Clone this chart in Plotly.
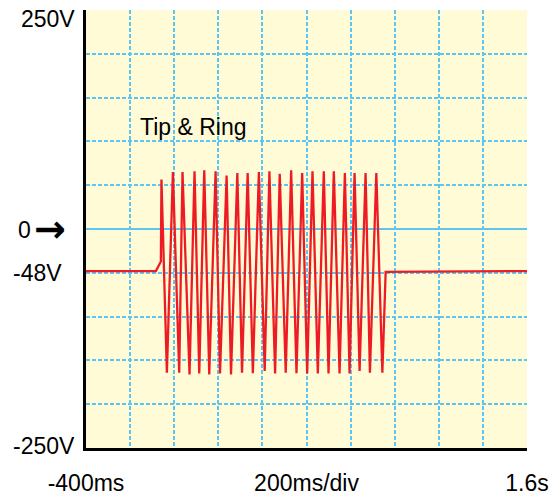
import plotly.graph_objects as go

# Time (ms) and voltage (V) samples
time_ms = [-400, -83, -60.5, -57.8,
           -33.2, -5.9, 22.7, 37.7, 69.5, 92.2, 113.6, 136.3, 159, 187.7,
           207.7, 237.7, 257.7, 286.3, 307.6, 333.1, 356.7, 384, 410.4, 431.8,
           457.6, 478.6, 505.8, 530.4, 554.5, 580.4, 603.1, 627.2, 651.3, 678.5,
           699.9, 724, 749.9, 774, 795.3, 818, 840.8, 868, 887.6, 916.7,
           944, 959, 1600]
volts = [-48, -48, -37, 56.5,
         -164, 65, -164, 65, -166, 66, -165, 67, -166, 66,
         -165, 61, -166, 64, -164, 64, -164.5, 65, -162, 66,
         -165, 63, -164, 67, -164.5, 64, -165, 66, -165, 66,
         -165, 66, -165, 64, -165, 64, -162, 64, -164, 64,
         -164, -49, -48]

x_tick_vals = [-400, 600, 1600]
x_tick_text = ["-400ms", "200ms/div", "1.6s"]
y_labels = ["250V", "0", "-48V", "-250V"]
y_label_pos = [240, -1.5, -50.5, -248]

GRID = "#5cc6f0"
FONT = "Liberation Sans, Arial, Helvetica, sans-serif"

fig = go.Figure()
fig.add_trace(go.Scatter(x=time_ms, y=volts, mode="lines",
                         line=dict(color="#ed1c24", width=2.3),
                         hoverinfo="skip", showlegend=False))

annotations = []
gaps = [9.5, 53, 22, 8.7]
for txt, yv, g in zip(y_labels, y_label_pos, gaps):
    annotations.append(dict(x=0, xref="paper", y=yv, yref="y", text=txt,
                            showarrow=False, xanchor="right", yanchor="middle",
                            xshift=-g, font=dict(size=23, color="black", family=FONT)))
annotations.append(dict(x=0, xref="paper", y=-1.5, yref="y", text="<b>→</b>",
                        showarrow=False, xanchor="right", yanchor="middle",
                        xshift=-18, yshift=1,
                        font=dict(size=38, color="black", family="DejaVu Sans")))
annotations.append(dict(x=-163, xref="x", y=117, yref="y", text="Tip & Ring",
                        showarrow=False, xanchor="left", yanchor="middle",
                        font=dict(size=23, color="black", family=FONT)))

fig.update_layout(
    width=553, height=496,
    margin=dict(l=86, r=26, t=10, b=48, autoexpand=False),
    paper_bgcolor="white", plot_bgcolor="#fffbd7",
    annotations=annotations,
    xaxis=dict(range=[-400, 1600], tickvals=x_tick_vals, ticktext=x_tick_text,
               tickfont=dict(size=23, color="black", family=FONT),
               ticks="", ticklabelstandoff=12, automargin=False,
               showline=True, linecolor="black", linewidth=3,
               showgrid=True, gridcolor=GRID, gridwidth=2, griddash="4px,2px",
               minor=dict(dtick=200, tick0=-400, showgrid=True, gridcolor=GRID,
                          gridwidth=2, griddash="4px,2px"),
               zeroline=False, fixedrange=True),
    yaxis=dict(range=[-250, 250], dtick=50, tick0=-250, showticklabels=False,
               ticks="", showline=True, linecolor="black", linewidth=3,
               automargin=False,
               showgrid=True, gridcolor=GRID, gridwidth=2, griddash="4px,2px",
               zeroline=True, zerolinecolor=GRID, zerolinewidth=2,
               fixedrange=True),
)

fig.write_html("out.html", config={"displayModeBar": False},
               post_script="document.body.style.margin='0';document.body.style.overflow='hidden';")
